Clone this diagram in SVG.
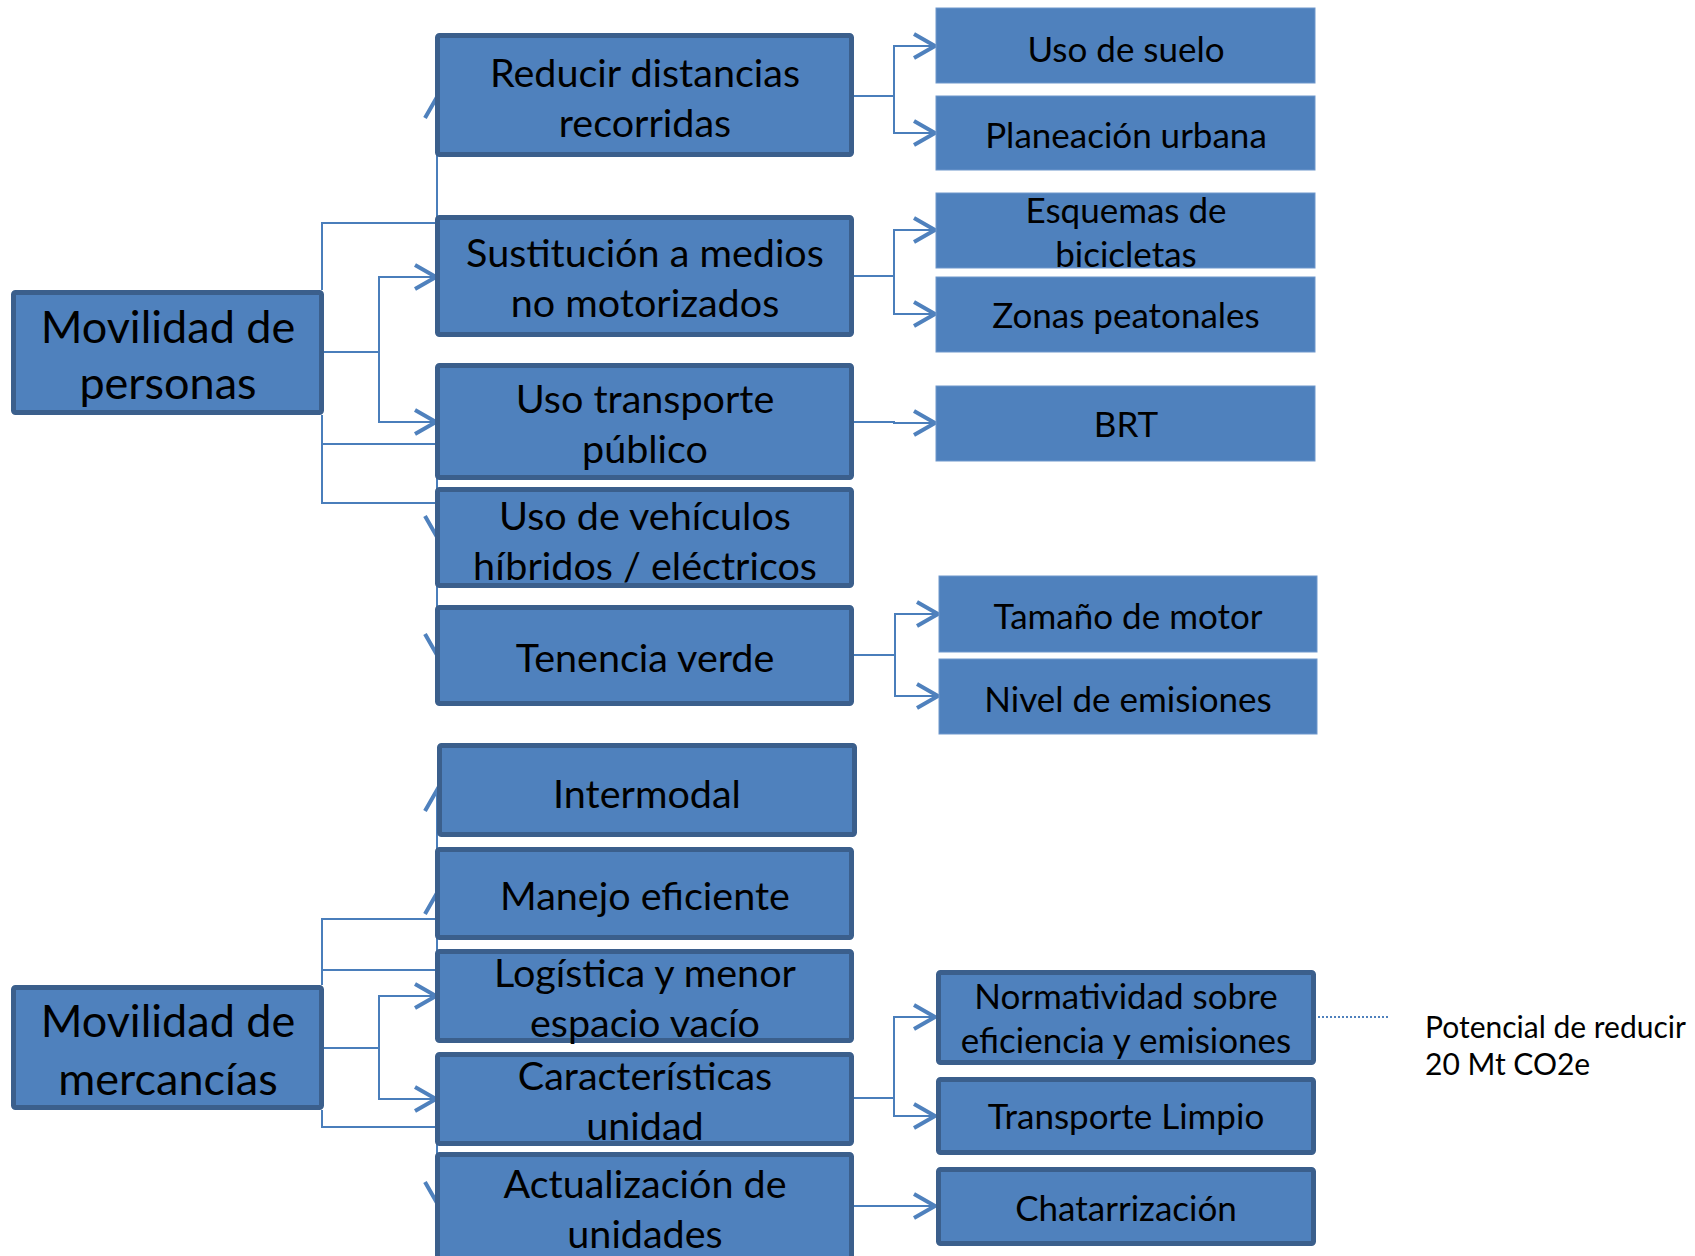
<svg xmlns="http://www.w3.org/2000/svg" width="1695" height="1256" viewBox="0 0 1695 1256">
<style>
.bx{fill:#4F81BD;stroke:#3B5F8C;stroke-width:5}
.fl{fill:#4F81BD;stroke:#6E97CC;stroke-width:1}
.t{font-family:Lato,"Open Sans",sans-serif;fill:#000;text-anchor:middle}
.m{font-size:39.5px}
.b{font-size:45px}
.r{font-size:35px}
.n{font-size:30px;text-anchor:start}
.c{fill:none;stroke:#4A7EBB;stroke-width:2}
.a{marker-end:url(#ar)}
</style>
<defs>
<marker id="ar" markerUnits="userSpaceOnUse" markerWidth="40" markerHeight="40" refX="0" refY="0" viewBox="-30 -20 40 40" orient="auto" overflow="visible">
<path d="M-21,-12 L0,0 L-21,12" fill="none" stroke="#4F81BD" stroke-width="4"/>
</marker>
</defs>
<rect width="1695" height="1256" fill="#fff"/>
<g id="connectors">
<path class="c a" d="M322,290 V223 H437 V97"/>
<path class="c a" d="M324,352 H379 V277 H436"/>
<path class="c a" d="M379,352 V422 H436"/>
<path class="c a" d="M322,415 V444 H437 V655"/>
<path class="c a" d="M322,415 V503 H437 V537"/>
<path class="c a" d="M322,985 V919 H437 V893"/>
<path class="c a" d="M322,985 V970 H437 V790"/>
<path class="c a" d="M324,1048 H379 V996 H436"/>
<path class="c a" d="M379,1048 V1099 H436"/>
<path class="c a" d="M322,1110 V1127 H437 V1203"/>
<path class="c a" d="M854,96 H894 V46 H935"/>
<path class="c a" d="M894,96 V133 H935"/>
<path class="c a" d="M854,276 H894 V230 H935"/>
<path class="c a" d="M894,276 V314 H935"/>
<path class="c a" d="M854,422 H894 V423 H935"/>
<path class="c a" d="M854,655 H895 V614 H938"/>
<path class="c a" d="M895,655 V696 H938"/>
<path class="c a" d="M854,1098 H894 V1017 H935"/>
<path class="c a" d="M894,1098 V1116 H935"/>
<path class="c a" d="M854,1206 H935"/>
<path d="M1318,1017 H1390" fill="none" stroke="#4F81BD" stroke-width="2" stroke-dasharray="2,2"/>
</g>
<g id="n-personas"><rect class="bx" x="13.5" y="292.5" width="308" height="120" rx="2"/><text class="t b" x="168" y="343">Movilidad de</text><text class="t b" x="168" y="399">personas</text></g>
<g id="n-reducir"><rect class="bx" x="437.5" y="35.5" width="414" height="119" rx="2"/><text class="t m" x="645" y="87">Reducir distancias</text><text class="t m" x="645" y="137">recorridas</text></g>
<g id="n-sustitucion"><rect class="bx" x="437.5" y="217.5" width="414" height="117" rx="2"/><text class="t m" x="645" y="267">Sustitución a medios</text><text class="t m" x="645" y="317">no motorizados</text></g>
<g id="n-transporte"><rect class="bx" x="437.5" y="365.5" width="414" height="112" rx="2"/><text class="t m" x="645" y="413">Uso transporte</text><text class="t m" x="645" y="463">público</text></g>
<g id="n-vehiculos"><rect class="bx" x="437.5" y="489.5" width="414" height="96" rx="2"/><text class="t m" x="645" y="530">Uso de vehículos</text><text class="t m" x="645" y="580">híbridos / eléctricos</text></g>
<g id="n-tenencia"><rect class="bx" x="437.5" y="607.5" width="414" height="96" rx="2"/><text class="t m" x="645" y="672">Tenencia verde</text></g>
<g id="n-suelo"><rect class="fl" x="936" y="8" width="379" height="75"/><text class="t r" x="1126" y="62">Uso de suelo</text></g>
<g id="n-planeacion"><rect class="fl" x="936" y="96" width="379" height="74"/><text class="t r" x="1126" y="148">Planeación urbana</text></g>
<g id="n-esquemas"><rect class="fl" x="936" y="193" width="379" height="75"/><text class="t r" x="1126" y="223">Esquemas de</text><text class="t r" x="1126" y="267">bicicletas</text></g>
<g id="n-zonas"><rect class="fl" x="936" y="277" width="379" height="75"/><text class="t r" x="1126" y="328">Zonas peatonales</text></g>
<g id="n-brt"><rect class="fl" x="936" y="386" width="379" height="75"/><text class="t r" x="1126" y="437">BRT</text></g>
<g id="n-tamano"><rect class="fl" x="939" y="576" width="378" height="76"/><text class="t r" x="1128" y="629">Tamaño de motor</text></g>
<g id="n-nivel"><rect class="fl" x="939" y="659" width="378" height="75"/><text class="t r" x="1128" y="712">Nivel de emisiones</text></g>
<g id="n-mercancias"><rect class="bx" x="13.5" y="987.5" width="308" height="120" rx="2"/><text class="t b" x="168" y="1037">Movilidad de</text><text class="t b" x="168" y="1095">mercancías</text></g>
<g id="n-intermodal"><rect class="bx" x="439.5" y="745.5" width="415" height="89" rx="2"/><text class="t m" x="647" y="808">Intermodal</text></g>
<g id="n-manejo"><rect class="bx" x="437.5" y="849.5" width="414" height="88" rx="2"/><text class="t m" x="645" y="910">Manejo eficiente</text></g>
<g id="n-logistica"><rect class="bx" x="437.5" y="951.5" width="414" height="89" rx="2"/><text class="t m" x="645" y="987">Logística y menor</text><text class="t m" x="645" y="1037">espacio vacío</text></g>
<g id="n-caracteristicas"><rect class="bx" x="437.5" y="1054.5" width="414" height="89" rx="2"/><text class="t m" x="645" y="1090">Características</text><text class="t m" x="645" y="1140">unidad</text></g>
<g id="n-actualizacion"><rect class="bx" x="437.5" y="1154.5" width="414" height="110" rx="2"/><text class="t m" x="645" y="1198">Actualización de</text><text class="t m" x="645" y="1248">unidades</text></g>
<g id="n-normatividad"><rect class="bx" x="938.5" y="972.5" width="375" height="90" rx="2"/><text class="t r" x="1126" y="1009">Normatividad sobre</text><text class="t r" x="1126" y="1053">eficiencia y emisiones</text></g>
<g id="n-limpio"><rect class="bx" x="938.5" y="1079.5" width="375" height="73" rx="2"/><text class="t r" x="1126" y="1129">Transporte Limpio</text></g>
<g id="n-chatarrizacion"><rect class="bx" x="938.5" y="1169.5" width="375" height="74" rx="2"/><text class="t r" x="1126" y="1221">Chatarrización</text></g>
<g id="n-potencial"><text class="t n" x="1425" y="1038">Potencial de reducir</text><text class="t n" x="1425" y="1075">20 Mt CO2e</text></g>
</svg>
